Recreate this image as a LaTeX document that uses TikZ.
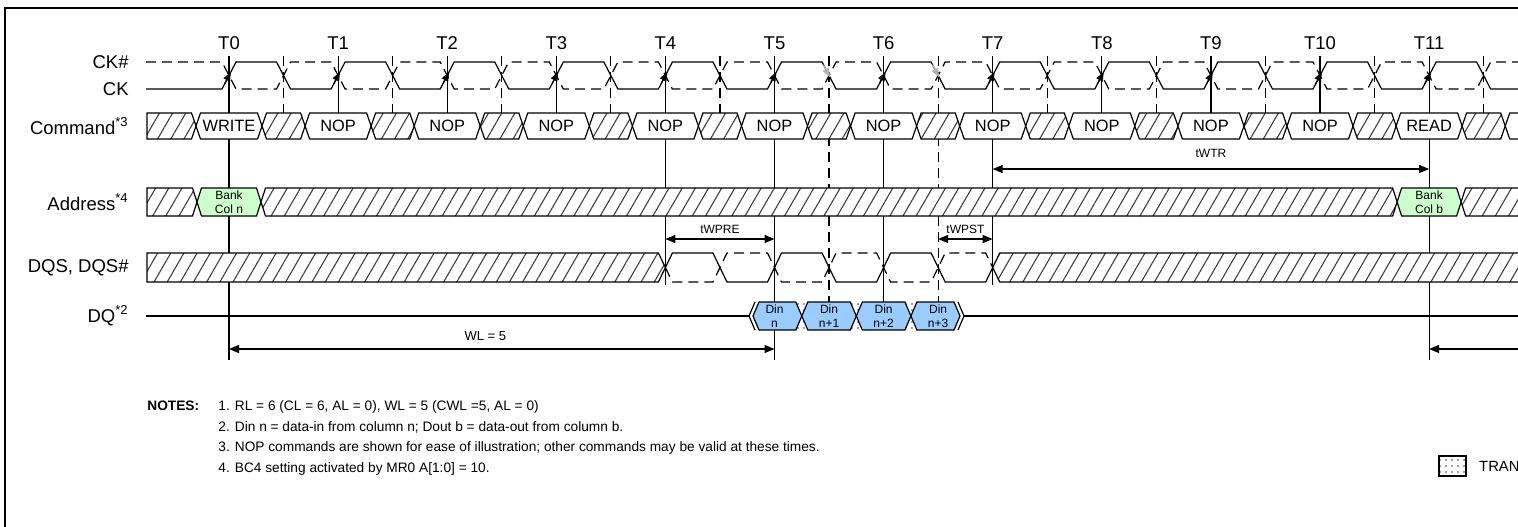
\documentclass[tikz,border=0pt]{standalone}
\usepackage{fontspec}
\setmainfont{Liberation Sans}
\usetikzlibrary{arrows.meta,patterns.meta,positioning}

\definecolor{bankgreen}{HTML}{CCFFCC}
\definecolor{dinblue}{HTML}{99CCFF}

% x of clock edge Tn
\newcommand\tx[1]{229+109.1*(#1)}
% one bus value: [slope]{style}{left tip}{right tip}{top}{bottom}
\newcommand\busseg[6][4.5]{%
  \path[#2] ({#3},{(#5+#6)/2}) -- ({#3+#1},#5) -- ({#4-#1},#5)
    -- ({#4},{(#5+#6)/2}) -- ({#4-#1},#6) -- ({#3+#1},#6) -- cycle;}

\tikzset{
  sig/.style={line width=0.6pt},
  bar/.style={sig,dash pattern=on 5pt off 3pt},
  hatch/.style={sig,draw,preaction={fill=white},
    pattern={Lines[angle=60,distance=5.7pt,line width=0.55pt]},pattern color=black!75},
  valid/.style={sig,draw,fill=white},
  bank/.style={sig,draw,fill=bankgreen},
  din/.style={sig,draw,fill=dinblue},
  trans/.style={preaction={fill=white},pattern={Dots[distance=3pt,radius=0.45pt]},pattern color=black!75},
  lbl/.style={anchor=east,inner sep=0pt,font=\fontsize{9.25}{11}\selectfont},
  tlabel/.style={font=\fontsize{9.25}{11}\selectfont},
  cmd/.style={font=\fontsize{8.2}{10}\selectfont},
  small/.style={font=\fontsize{6}{7}\selectfont,align=center,inner sep=1pt},
  note/.style={anchor=base west,inner sep=0pt,font=\fontsize{6.85}{10}\selectfont},
  ckarr/.style={sig,-{Triangle[length=4.5pt,width=3.5pt]}},
}

\begin{document}
\begin{tikzpicture}[x=0.5pt,y=-0.5pt,>={Triangle[length=5pt,width=4pt]}]
\useasboundingbox (0,0) rectangle (1518,526);
\clip (0,0) rectangle (1518,526);
\draw[line width=1pt] (5,540) -- (5,8) -- (1600,8);

% signal names
\node[lbl] (ckbname) at (129,62) {CK\#};
\node[lbl] (ckname) at (129,89) {CK};
\node[lbl] (cmdname) at (129,126) {Command\textsuperscript{*3}};
\node[lbl] (addrname) at (129,202) {Address\textsuperscript{*4}};
\node[lbl] (dqsname) at (129,268) {DQS, DQS\#};
\node[lbl] (dqname) at (129,316) {DQ\textsuperscript{*2}};

% clock edges and the lines down from them
\foreach \n in {0,...,11}
  \node[tlabel] (T\n) at ({\tx{\n}},43) {T\n};
\foreach \n/\b in {0/360,1/113,2/113,3/113,4/285,5/360,6/302,7/285,8/113,9/113,10/113,11/360,12/113}
  \draw[sig] ({\tx{\n}},56) -- ({\tx{\n}},\b);
\foreach \n/\b in {0/113,1/113,2/113,3/113,4/113,5/302,6/302,7/113,8/113,9/113,10/113,11/113}
  \draw[bar] ({\tx{\n}+54.55},56) -- ({\tx{\n}+54.55},\b);

% CK and CK#
\draw[sig] (146,89) foreach \n in {0,...,12} { -- ({\tx{\n}-7},89) -- ({\tx{\n}+7},62)
    -- ({\tx{\n}+47.55},62) -- ({\tx{\n}+61.55},89) };
\draw[bar] (146,62) foreach \n in {0,...,12} { -- ({\tx{\n}-7},62) -- ({\tx{\n}+7},89)
    -- ({\tx{\n}+47.55},89) -- ({\tx{\n}+61.55},62) };
\foreach \n in {0,...,12}
  \draw[ckarr] ({\tx{\n}-4.2},83.6) -- ({\tx{\n}+1.9},72);
\foreach \n in {5,6}
  \draw[ckarr,gray!60] ({\tx{\n}+54.55-5.6},64.7) -- ({\tx{\n}+54.55+0.9},77.3);

% command bus
\path[hatch] (147,113) -- ({\tx{0}-37.5},113) -- ({\tx{0}-33},126) -- ({\tx{0}-37.5},139) -- (147,139) -- cycle;
\foreach \n/\cmdtext in {0/WRITE,1/NOP,2/NOP,3/NOP,4/NOP,5/NOP,6/NOP,7/NOP,8/NOP,9/NOP,10/NOP,11/READ} {
  \busseg{valid}{\tx{\n}-33}{\tx{\n}+33}{113}{139}
  \node[cmd] (cmd\n) at ({\tx{\n}},126) {\cmdtext};
  \busseg{hatch}{\tx{\n}+33}{\tx{\n+1}-33}{113}{139}
}
\busseg{valid}{\tx{12}-33}{\tx{12}+33}{113}{139}

% address bus
\path[hatch] (147,188) -- ({\tx{0}-36.5},188) -- ({\tx{0}-32},202) -- ({\tx{0}-36.5},216) -- (147,216) -- cycle;
\busseg{bank}{\tx{0}-32}{\tx{0}+32}{188}{216}
\node[small] (coln) at ({\tx{0}},202) {Bank\\Col n};
\busseg{hatch}{\tx{0}+32}{\tx{11}-32}{188}{216}
\busseg{bank}{\tx{11}-32}{\tx{11}+32}{188}{216}
\node[small] (colb) at ({\tx{11}},202) {Bank\\Col b};
\busseg{hatch}{\tx{11}+32}{1600}{188}{216}

% DQS, DQS#
\path[hatch] (147,253) -- ({\tx{4}-7},253) -- ({\tx{4}},267.5) -- ({\tx{4}-7},282) -- (147,282) -- cycle;
\draw[sig] ({\tx{4}},267.5) foreach \k in {4,5,6} { -- ({\tx{\k}+7},253) -- ({\tx{\k}+47.55},253)
    -- ({\tx{\k}+61.55},282) -- ({\tx{\k+1}-7},282) } -- ({\tx{7}},267.5);
\draw[bar] ({\tx{4}},267.5) foreach \k in {4,5,6} { -- ({\tx{\k}+7},282) -- ({\tx{\k}+47.55},282)
    -- ({\tx{\k}+61.55},253) -- ({\tx{\k+1}-7},253) } -- ({\tx{7}},267.5);
\busseg[7]{hatch}{\tx{7}}{1600}{253}{282}

% DQ
\draw[sig] (146,316) -- (749,316);
\draw[sig] (755,302) -- (749,316) -- (755,330);
\draw[sig] (958,302) -- (964,316) -- (958,330);
\draw[sig] (964,316) -- (1600,316);
\path[trans] (795,302) rectangle (917,330);
\foreach \k/\xa/\xb/\lab in {0/753/801.8/n,1/801.8/856.3/n+1,2/856.3/910.9/n+2,3/910.9/960/n+3} {
  \busseg[6]{din}{\xa}{\xb}{302}{330}
  \node[small] (din\k) at ({\tx{5}+54.55*\k},316) {Din\\\lab};
}

% timing
\coordinate (wpre-a) at ({\tx{4}},239);
\coordinate (wpre-b) at ({\tx{5}},239);
\coordinate (wpst-a) at ({\tx{6}+54.55},239);
\coordinate (wpst-b) at ({\tx{7}},239);
\coordinate (wtr-a) at ({\tx{7}},169);
\coordinate (wtr-b) at ({\tx{11}},169);
\coordinate (wl-a) at ({\tx{0}},349);
\coordinate (wl-b) at ({\tx{5}},349);
\coordinate (rl-a) at ({\tx{11}},349);
\coordinate (rl-b) at (1600,349);
\draw[sig,<->] (wpre-a) -- node[small,above=1.5pt] (twpre) {tWPRE} (wpre-b);
\draw[sig,<->] (wpst-a) -- node[small,above=1.5pt] (twpst) {tWPST} (wpst-b);
\draw[sig,<->] (wtr-a) -- node[small,above=4.5pt] (twtr) {tWTR} (wtr-b);
\draw[sig,<->] (wl-a) -- node[small,font=\fontsize{6.5}{8}\selectfont,above=3pt,pos=0.47] (wl) {WL = 5} (wl-b);
\draw[sig,<-] (rl-a) -- (rl-b);

% notes and legend
\node[note] (notehead) at (147,410) {\bfseries NOTES:};
\node[note] (note1) at (218,410) {1. RL = 6 (CL = 6, AL = 0), WL = 5 (CWL =5, AL = 0)};
\node[note] (note2) at (218,431) {2. Din n = data-in from column n; Dout b = data-out from column b.};
\node[note] (note3) at (218,451) {3. NOP commands are shown for ease of illustration; other commands may be valid at these times.};
\node[note] (note4) at (218,472) {4. BC4 setting activated by MR0 A[1:0] = 10.};
\node[draw,line width=0.8pt,trans,minimum width=13.5pt,minimum height=10pt,inner sep=0pt] (transbox) at (1452.5,466) {};
\node[right=6pt of transbox,inner sep=0pt,font=\fontsize{7.4}{9}\selectfont] (transtext) {TRAN};
\end{tikzpicture}
\end{document}
